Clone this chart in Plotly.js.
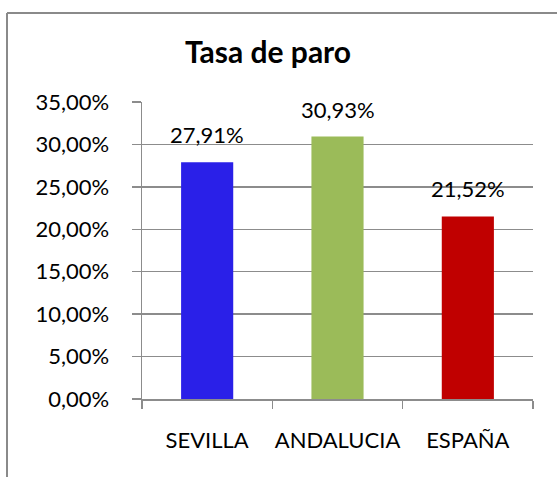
<!DOCTYPE html>
<html>
<head>
<meta charset="utf-8">
<script src="https://cdn.plot.ly/plotly-3.0.1.min.js"></script>
<style>
  html, body { margin: 0; padding: 0; background: #fff; }
  #chart { width: 557px; height: 477px; }
</style>
</head>
<body>
<div id="chart"></div>
<script>
const categories = ['SEVILLA', 'ANDALUCIA', 'ESPAÑA'];
const values = [27.91, 30.93, 21.52];
const barColors = ['#2A20E8', '#9BBB59', '#C00000'];
const chartTitle = 'Tasa de paro';
const yTicks = [0, 5, 10, 15, 20, 25, 30, 35];

const FONT = 'Lato, "Open Sans", sans-serif';
const fmt = v => v.toFixed(2).replace('.', ',') + '%';

const W = 557, H = 477;
const ml = 142, mr = 24, mt = 102, mb = 78;
const pw = W - ml - mr, ph = H - mt - mb;
const px2x = p => (p - ml) / pw;
const py2y = p => (H - mb - p) / ph;

const trace = {
  type: 'bar',
  x: categories,
  y: values,
  marker: { color: barColors, line: { width: 0 } },
  hoverinfo: 'skip'
};

const annotations = categories.map((c, i) => ({
  x: c, y: values[i], xref: 'x', yref: 'y',
  text: fmt(values[i]),
  showarrow: false,
  yanchor: 'bottom',
  yshift: 12,
  font: { family: FONT, size: 22, color: '#000' }
}));

const layout = {
  width: W, height: H,
  margin: { l: ml, r: mr, t: mt, b: mb, pad: 0 },
  paper_bgcolor: '#fff',
  plot_bgcolor: '#fff',
  showlegend: false,
  bargap: 0.6,
  title: {
    text: '<b>' + chartTitle + '</b>',
    font: { family: FONT, size: 30, color: '#000' },
    xref: 'container', yref: 'container',
    x: 268 / W, xanchor: 'center',
    y: 1 - 52 / H, yanchor: 'middle'
  },
  xaxis: {
    type: 'category',
    showline: true, linecolor: '#8c8c8c', linewidth: 1.5,
    ticks: 'outside', tickson: 'boundaries', ticklen: 8, tickcolor: '#8c8c8c', tickwidth: 1.5,
    showgrid: false,
    tickangle: 0,
    tickfont: { family: FONT, size: 22, color: '#000' },
    ticklabelstandoff: 21
  },
  yaxis: {
    range: [0, 35],
    tickmode: 'array',
    tickvals: yTicks,
    ticktext: yTicks.map(fmt),
    showline: true, linecolor: '#8c8c8c', linewidth: 1.5,
    ticks: 'outside', ticklen: 9, tickcolor: '#8c8c8c', tickwidth: 1.5,
    showgrid: true, gridcolor: '#8c8c8c', gridwidth: 1.3,
    zeroline: false,
    tickfont: { family: FONT, size: 22, color: '#000' },
    ticklabelstandoff: 18
  },
  annotations: annotations,
  shapes: [
    { type: 'line', xref: 'paper', yref: 'paper',
      x0: px2x(7), x1: px2x(W + 5), y0: py2y(13), y1: py2y(13),
      line: { color: '#8a8a8a', width: 2 } },
    { type: 'line', xref: 'paper', yref: 'paper',
      x0: px2x(7), x1: px2x(7), y0: py2y(13), y1: py2y(H + 5),
      line: { color: '#8a8a8a', width: 2 } }
  ]
};

Plotly.newPlot('chart', [trace], layout, { staticPlot: true, displayModeBar: false });
</script>
</body>
</html>
